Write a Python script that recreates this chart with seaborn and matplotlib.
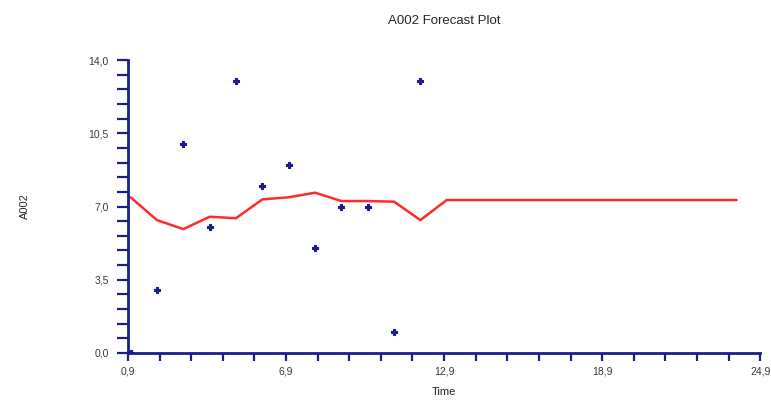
import numpy as np
import pandas as pd
import matplotlib.pyplot as plt
from matplotlib.ticker import MultipleLocator, FuncFormatter
import seaborn as sns

# Observed values
obs_time = [1, 2, 3, 4, 5, 6, 7, 8, 9, 10, 11, 12]
obs_value = [0, 3, 10, 6, 13, 8, 9, 5, 7, 7, 1, 13]

# Forecast line
fc_time = [1, 2, 3, 4, 5, 6, 7, 8, 9, 10, 11, 12, 13, 24]
fc_value = [7.44, 6.35, 5.92, 6.51, 6.44, 7.34, 7.44, 7.66, 7.26, 7.26, 7.23, 6.35, 7.31, 7.31]

obs = pd.DataFrame({"Time": obs_time, "A002": obs_value})
fc = pd.DataFrame({"Time": fc_time, "A002": fc_value})

sns.set_style("white")
plt.rcParams['font.family'] = ['Liberation Sans', 'DejaVu Sans']

navy = "#1c1c8a"

fig = plt.figure(figsize=(7.71, 4.0), dpi=100)
ax = fig.add_axes([0.166, 0.1175, 0.82, 0.7325])

sns.lineplot(data=fc, x="Time", y="A002", color="#ff2a2a", lw=1.8, ax=ax)
sns.scatterplot(data=obs, x="Time", y="A002", color=navy, marker="P", s=22,
                edgecolor=navy, linewidth=0.8, ax=ax, zorder=5)

ax.set_xlim(0.9, 24.9)
ax.set_ylim(0, 14)
ax.xaxis.set_major_locator(MultipleLocator(6, offset=0.9))
ax.xaxis.set_minor_locator(MultipleLocator(1.2, offset=0.9))
ax.yaxis.set_major_locator(MultipleLocator(3.5))
ax.yaxis.set_minor_locator(MultipleLocator(0.7))

comma = FuncFormatter(lambda v, p: f"{v:.1f}".replace(".", ","))
ax.xaxis.set_major_formatter(comma)
ax.yaxis.set_major_formatter(comma)

for side in ["top", "right"]:
    ax.spines[side].set_visible(False)
for side in ["left", "bottom"]:
    ax.spines[side].set_color(navy)
    ax.spines[side].set_linewidth(2)

ax.tick_params(which="both", direction="out", color=navy, width=1.6,
               labelsize=7.5, labelcolor="#3a3a3a")
ax.tick_params(axis="y", which="both", length=8, pad=6)
ax.tick_params(axis="x", which="both", length=6, pad=4)
ax.tick_params(which="both", bottom=True, left=True)

ax.set_title("A002 Forecast Plot", fontsize=9.5, pad=26)
ax.set_xlabel("Time", fontsize=8, labelpad=7)
ax.set_ylabel("A002", fontsize=8, labelpad=42)

fig.savefig("out.png", dpi=100)
